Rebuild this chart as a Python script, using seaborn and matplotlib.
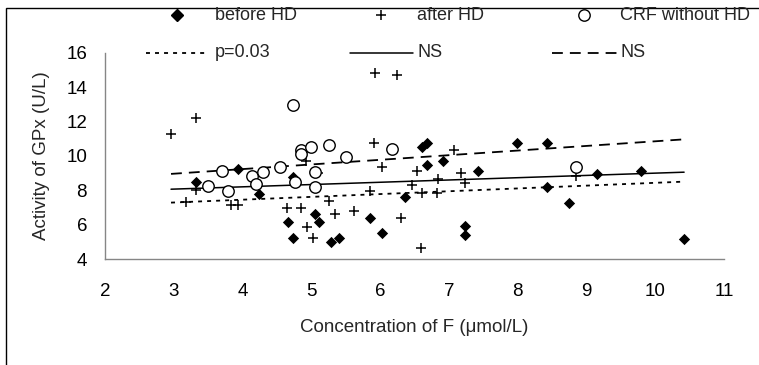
import matplotlib
matplotlib.use("Agg")
import matplotlib.pyplot as plt
import seaborn as sns
from matplotlib.lines import Line2D
from matplotlib.patches import Rectangle

# before HD (filled diamonds)
before_x = [3.33, 3.93, 4.24, 4.66, 4.73, 4.73, 5.06, 5.11, 5.28, 5.40, 5.86, 6.03, 6.36,
            6.61, 6.68, 6.68, 6.92, 7.24, 7.24, 7.42, 7.99, 8.42, 8.43, 8.75, 9.15, 9.79, 10.42]
before_y = [8.50, 9.22, 7.77, 6.17, 8.79, 5.21, 6.62, 6.14, 5.01, 5.21, 6.41, 5.50, 7.63,
            10.53, 10.73, 9.47, 9.72, 5.92, 5.40, 9.14, 10.75, 10.73, 8.16, 7.28, 8.93, 9.12, 5.17]

# after HD (plus signs)
after_x = [2.96, 3.33, 3.18, 3.33, 3.83, 3.93, 4.64, 4.85, 4.94, 5.03, 4.92, 5.10, 5.26, 5.34,
           5.62, 5.86, 5.91, 5.92, 6.24, 6.03, 6.31, 6.46, 6.53, 6.60, 6.61, 6.84, 6.83, 7.08,
           7.17, 7.24, 8.85]
after_y = [11.30, 12.20, 7.34, 8.02, 7.16, 7.16, 6.97, 6.97, 5.88, 5.22, 9.68, 8.98, 7.37, 6.60,
           6.80, 7.98, 10.73, 14.80, 14.70, 9.33, 6.41, 8.31, 9.14, 4.63, 7.86, 8.64, 7.83, 10.34,
           8.99, 8.44, 8.84]

# CRF without HD (open circles)
crf_x = [3.50, 3.70, 3.79, 4.14, 4.29, 4.19, 4.55, 4.73, 4.76, 4.85, 4.85, 5.00, 5.05, 5.05,
         5.25, 5.51, 6.18, 8.85]
crf_y = [8.27, 9.13, 7.97, 8.84, 9.05, 8.37, 9.33, 12.98, 8.47, 10.32, 10.13, 10.52, 9.06, 8.17,
         10.63, 9.95, 10.40, 9.33]

# linear trend lines (end points)
trend_x = [2.96, 10.42]
trend_dotted = [7.28, 8.50]
trend_solid = [8.06, 9.05]
trend_dashed = [8.95, 10.96]

xticks = list(range(2, 12))
yticks = list(range(4, 17, 2))

sns.set_theme(style="white")
plt.rcParams['font.family'] = ['Liberation Sans', 'DejaVu Sans']

W, H = 759, 365
fig = plt.figure(figsize=(W / 100, H / 100), dpi=100)
ax = fig.add_axes([105 / W, 1 - 259 / H, 619 / W, 206.3 / H])

dotted = (0, (2.2, 2.8))
dashed = (0, (6, 3.9))
sns.lineplot(x=trend_x, y=trend_dotted, ax=ax, color='black', lw=1.3, linestyle=dotted, zorder=2)
sns.lineplot(x=trend_x, y=trend_solid, ax=ax, color='black', lw=1.1, zorder=2)
sns.lineplot(x=trend_x, y=trend_dashed, ax=ax, color='black', lw=1.3, linestyle=dashed, zorder=2)

sns.scatterplot(x=before_x, y=before_y, ax=ax, marker='D', s=33, color='black',
                edgecolor='black', linewidth=0, zorder=3)
sns.scatterplot(x=after_x, y=after_y, ax=ax, marker='+', s=52, color='black',
                linewidth=1.1, zorder=3)
sns.scatterplot(x=crf_x, y=crf_y, ax=ax, marker='o', s=68, color='white',
                edgecolor='black', linewidth=1.0, zorder=4)

ax.set_xlim(2, 11)
ax.set_ylim(4, 16)
ax.set_xticks(xticks)
ax.set_yticks(yticks)
ax.grid(False)
for side in ['top', 'right']:
    ax.spines[side].set_visible(False)
for side in ['left', 'bottom']:
    ax.spines[side].set_color('#868686')
    ax.spines[side].set_linewidth(1)
ax.tick_params(direction='out', length=4.3, width=1, color='#868686',
               labelsize=13.5, labelcolor='black')
ax.tick_params(axis='x', pad=13)
ax.tick_params(axis='y', pad=8.6)

ax.set_ylabel('Activity of GPx (U/L)', fontsize=13.5, va='center')
ax.yaxis.set_label_coords(-0.102, 0.5)
ax.set_xlabel('Concentration of F (\u03bcmol/L)', fontsize=13.5, va='center')
ax.xaxis.set_label_coords(0.5, -0.334)


def fx(px):
    return px / W


def fy(py):
    return 1 - py / H


# legend, row 1: markers
r1 = fy(15)
fig.add_artist(Line2D([fx(177)], [r1], marker='D', ms=5.7, color='black', ls='none'))
fig.add_artist(Line2D([fx(381)], [r1], marker='+', ms=7.2, mew=1.1, color='black', ls='none'))
fig.add_artist(Line2D([fx(584)], [r1], marker='o', ms=8.2, mfc='white', mec='black', mew=1.0, ls='none'))
fig.text(fx(215), r1, 'before HD', fontsize=13, va='center', ha='left')
fig.text(fx(417), r1, 'after HD', fontsize=13, va='center', ha='left')
fig.text(fx(620), r1, 'CRF without HD', fontsize=13, va='center', ha='left')

# legend, row 2: trend lines
r2 = fy(52.7)
fig.add_artist(Line2D([fx(146), fx(208)], [r2, r2], color='black', lw=1.3, ls=dotted))
fig.add_artist(Line2D([fx(350), fx(413)], [r2, r2], color='black', lw=1.1))
fig.add_artist(Line2D([fx(552), fx(617)], [r2, r2], color='black', lw=1.3, ls=dashed))
fig.text(fx(215), r2, 'p=0.03', fontsize=13, va='center', ha='left')
fig.text(fx(417), r2, 'NS', fontsize=13, va='center', ha='left')
fig.text(fx(620), r2, 'NS', fontsize=13, va='center', ha='left')

# chart frame (only left and top edges fall inside the picture)
fig.add_artist(Rectangle((fx(5.5), -0.1), 1.2, fy(8.5) + 0.1, fill=False,
                         edgecolor='black', lw=1, transform=fig.transFigure))

fig.savefig('out.png', dpi=100)
